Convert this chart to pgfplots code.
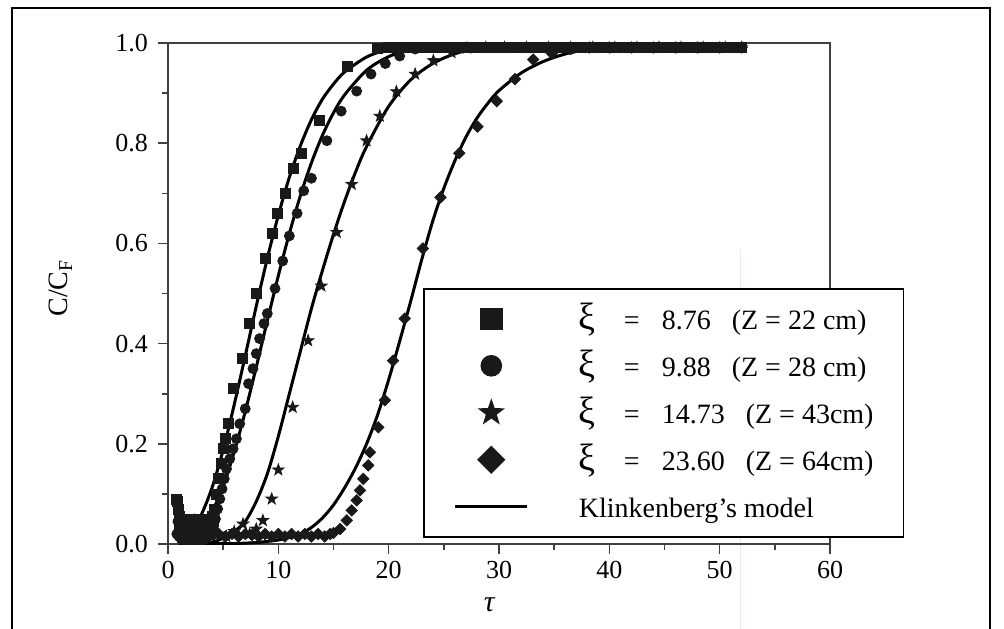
\documentclass[border=0pt]{standalone}
\usepackage{fontspec}
\setmainfont{Liberation Serif}
\usepackage{pgfplots}
\pgfplotsset{compat=1.18}
\newcommand{\bxi}{\makebox[22.5pt][l]{\fontsize{19}{20}\selectfont ξ}}
\pgfdeclareplotmark{fstar}{%
  \pgfpathmoveto{\pgfpointpolar{90}{\pgfplotmarksize}}%
  \pgfpathlineto{\pgfpointpolar{126}{0.4\pgfplotmarksize}}%
  \pgfpathlineto{\pgfpointpolar{162}{\pgfplotmarksize}}%
  \pgfpathlineto{\pgfpointpolar{198}{0.4\pgfplotmarksize}}%
  \pgfpathlineto{\pgfpointpolar{234}{\pgfplotmarksize}}%
  \pgfpathlineto{\pgfpointpolar{270}{0.4\pgfplotmarksize}}%
  \pgfpathlineto{\pgfpointpolar{306}{\pgfplotmarksize}}%
  \pgfpathlineto{\pgfpointpolar{342}{0.4\pgfplotmarksize}}%
  \pgfpathlineto{\pgfpointpolar{18}{\pgfplotmarksize}}%
  \pgfpathlineto{\pgfpointpolar{54}{0.4\pgfplotmarksize}}%
  \pgfpathclose
  \pgfusepathqfillstroke
}
\begin{document}
\begin{tikzpicture}
\useasboundingbox (-84pt,-42pt) rectangle (418pt,272pt);
\draw[black, line width=1.2pt] (-78pt,-60pt) -- (-78pt,268pt) -- (411pt,268pt) -- (411pt,-60pt);
\draw[red!12, line width=0.4pt] (286pt,147pt) -- (286pt,-60pt);
\begin{axis}[
  at={(0pt,0pt)}, anchor=south west, scale only axis,
  width=331pt, height=250.5pt,
  xmin=0, xmax=60, ymin=0, ymax=1,
  xtick={0,10,20,30,40,50,60}, minor x tick num=1,
  ytick={0,0.2,0.4,0.6,0.8,1.0}, minor y tick num=1,
  tick pos=left, tick align=outside,
  major tick length=5pt, minor tick length=3pt,
  axis line style={black!75, line width=1pt},
  every tick/.style={black!75, line width=0.8pt},
  tick label style={font=\fontsize{13}{15}\selectfont},
  /pgf/number format/assume math mode=true,
  yticklabel style={xshift=-1.5pt, /pgf/number format/.cd, fixed, fixed zerofill, precision=1},
  xlabel={\textit{τ}}, ylabel={C/C\textsubscript{F}},
  xlabel style={font=\fontsize{15}{17}\selectfont, at={(axis description cs:0.486,-0.122)}, anchor=center},
  ylabel style={font=\fontsize{14}{16}\selectfont, at={(axis description cs:-0.162,0.511)}, anchor=center},
  legend style={at={(rel axis cs:0.3852,0.511)}, anchor=north west, draw=black, line width=0.8pt,
    inner xsep=15pt, inner ysep=6pt, row sep=5.5pt, font=\fontsize{14}{16}\selectfont,
    nodes={inner sep=0pt, text height=14.5pt, text depth=3.5pt},
    /tikz/every odd column/.style={column sep=25pt}},
  legend cell align=left,
  legend image code/.code={\draw[mark repeat=2,mark phase=2,#1] plot coordinates {(0pt,0pt)(18pt,0pt)(36pt,0pt)};},
]
% squares xi = 8.76
\addplot[only marks, mark=square*, mark size=2.5pt, color=black!90, legend image post style={mark size=5.2pt}] coordinates {
(0.75,0.09)(0.85,0.085)(0.95,0.07)(1.0,0.055)(1.05,0.04)(1.15,0.025)(1.25,0.045)(1.35,0.015)(1.45,0.035)(1.55,0.02)(1.65,0.05)(1.75,0.01)(1.85,0.03)(1.95,0.02)(2.05,0.045)(2.15,0.01)(2.25,0.03)(2.35,0.02)(2.45,0.04)(2.55,0.015)(2.65,0.035)(2.75,0.025)(2.85,0.05)(2.95,0.01)(3.05,0.03)(3.15,0.02)(3.25,0.045)(3.35,0.015)(3.45,0.035)(3.55,0.025)(3.65,0.05)(3.75,0.02)(3.85,0.04)(3.95,0.03)(4.05,0.055)(4.15,0.045)(4.25,0.07)
(4.4,0.10)(4.6,0.13)(4.8,0.16)(5.0,0.19)(5.2,0.21)(5.5,0.24)(5.9,0.31)(6.7,0.37)(7.4,0.44)(8.0,0.50)(8.8,0.57)(9.5,0.62)(9.9,0.66)(10.6,0.70)(11.4,0.75)(12.1,0.78)(13.7,0.845)(16.3,0.953)(19.0,0.99)
(20,0.991)(21,0.991)(22,0.991)(23,0.991)(24,0.991)(25,0.991)(26,0.991)(27,0.991)(28,0.991)(29,0.991)(30,0.991)(31,0.991)(32,0.991)(33,0.991)(34,0.991)(35,0.991)(36,0.991)(37,0.991)(38,0.991)(39,0.991)(40,0.991)(41,0.991)(42,0.991)(43,0.991)(44,0.991)(45,0.991)(46,0.991)(47,0.991)(48,0.991)(49,0.991)(50,0.991)(51,0.991)(52,0.991)};
\addlegendentry{\bxi\makebox[19pt][l]{=}\makebox[35pt][l]{8.76}(Z = 22 cm)}
% circles xi = 9.88
\addplot[only marks, mark=*, mark size=2.5pt, color=black!90, legend image post style={mark size=5pt}] coordinates {
(0.8,0.02)(0.9,0.045)(1.0,0.015)(1.1,0.03)(1.2,0.01)(1.3,0.05)(1.4,0.02)(1.5,0.035)(1.6,0.01)(1.7,0.03)(1.8,0.045)(1.9,0.015)(2.0,0.025)(2.1,0.04)(2.2,0.01)(2.3,0.03)(2.4,0.05)(2.5,0.01)(2.6,0.02)(2.7,0.04)(2.8,0.03)(2.9,0.015)(3.0,0.045)(3.1,0.02)(3.2,0.03)(3.3,0.01)(3.4,0.025)(3.5,0.04)(3.6,0.015)(3.7,0.03)(3.8,0.02)(3.9,0.04)(4.0,0.025)(4.1,0.035)(4.2,0.045)(4.3,0.05)
(4.5,0.07)(4.7,0.09)(4.9,0.11)(5.1,0.13)(5.3,0.15)(5.6,0.17)(5.9,0.19)(6.2,0.21)(6.5,0.24)(7.0,0.27)(7.3,0.32)(7.7,0.35)(8.0,0.38)(8.3,0.41)(8.7,0.44)(9.0,0.46)(9.7,0.51)(10.4,0.565)(11.0,0.615)(11.7,0.66)(12.3,0.705)(13.0,0.73)(14.4,0.805)(15.7,0.864)(17.1,0.904)(18.4,0.938)(19.7,0.959)(21.0,0.974)(22.4,0.988)
(23.5,0.991)(24.5,0.991)(25.5,0.991)(26.5,0.991)(27.5,0.991)(28.5,0.991)(29.5,0.991)(30.5,0.991)(31.5,0.991)(32.5,0.991)(33.5,0.991)(34.5,0.991)(35.5,0.991)(36.5,0.991)(37.5,0.991)(38.5,0.991)(39.5,0.991)(40.5,0.991)(41.5,0.991)(42.5,0.991)(43.5,0.991)(44.5,0.991)(45.5,0.991)(46.5,0.991)(47.5,0.991)(48.5,0.991)(49.5,0.991)(50.5,0.991)(51.5,0.991)};
\addlegendentry{\bxi\makebox[19pt][l]{=}\makebox[35pt][l]{9.88}(Z = 28 cm)}
% stars xi = 14.73
\addplot[only marks, mark=fstar, mark size=3pt, color=black!90, legend image post style={mark size=6pt}] coordinates {
(4.6,0.02)(5.3,0.015)(6.0,0.025)(6.8,0.04)(7.4,0.02)(8.0,0.03)(8.6,0.047)(9.4,0.09)(10.0,0.148)(11.3,0.273)(12.7,0.406)(13.9,0.515)(15.3,0.622)(16.65,0.718)(18.0,0.805)(19.2,0.854)(20.7,0.903)(22.4,0.938)(24.05,0.965)(25.7,0.981)(27.1,0.99)(28.8,0.991)(30.5,0.991)(32.5,0.991)(34.5,0.991)(36.5,0.991)(38.5,0.991)(40.5,0.991)(42.5,0.991)(44.5,0.991)(46.5,0.991)(48.5,0.991)(50.5,0.991)(52,0.991)};
\addlegendentry{\bxi\makebox[19pt][l]{=}\makebox[42pt][l]{14.73}(Z = 43cm)}
% diamonds xi = 23.60
\addplot[only marks, mark=square*, mark size=2pt, mark options={rotate=45}, color=black!90, legend image post style={mark size=4.6pt}] coordinates {
(4.6,0.02)(5.2,0.015)(5.8,0.02)(6.4,0.015)(7.0,0.02)(7.6,0.018)(8.2,0.015)(8.8,0.02)(9.4,0.015)(10.0,0.02)(10.6,0.015)(11.2,0.02)(11.8,0.015)(12.4,0.02)(13.0,0.015)(13.6,0.02)(14.2,0.015)(14.7,0.02)(15.0,0.022)(15.6,0.03)(16.2,0.047)(16.65,0.067)(17.1,0.087)(17.4,0.107)(17.7,0.13)(18.15,0.157)(18.3,0.183)(19.06,0.233)(19.65,0.287)(20.4,0.366)(21.45,0.45)(23.1,0.59)(24.7,0.692)(26.4,0.78)(28.05,0.833)(29.8,0.884)(31.45,0.928)(33.1,0.967)(34.8,0.979)(36.5,0.988)(38.2,0.991)(40,0.991)(42,0.991)(44,0.991)(46,0.991)(48,0.991)(50,0.991)(52,0.991)};
\addlegendentry{\bxi\makebox[19pt][l]{=}\makebox[42pt][l]{23.60}(Z = 64cm)}
% Klinkenberg model curves
\addplot[black, line width=1.5pt, smooth] coordinates {
(1,0.0057)(2,0.0228)(3,0.0577)(4,0.113)(5,0.188)(6,0.278)(7,0.3755)(8,0.4747)(9,0.570)(10,0.656)(11,0.732)(12,0.795)(13,0.847)(14,0.888)(15,0.918)(16,0.942)(18,0.972)(20,0.9876)(22,0.9946)(25,0.9987)(30,0.9999)(52,1.0)};
\addlegendentry{Klinkenberg’s model}
\addplot[black, line width=1.5pt, smooth, forget plot] coordinates {
(1,0.0021)(2,0.0098)(3,0.0296)(4,0.0645)(5,0.1153)(6,0.1835)(7,0.2644)(8,0.3533)(9,0.4455)(10,0.5355)(11,0.6198)(12,0.6954)(13,0.7609)(14,0.8158)(15,0.8607)(16,0.8963)(18,0.9457)(20,0.9728)(22,0.9874)(25,0.996)(30,0.9996)(52,1.0)};
\addplot[black, line width=1.5pt, smooth, forget plot] coordinates {
(2,0.0009)(4,0.004)(5,0.012)(6,0.025)(7,0.045)(8,0.085)(9,0.14)(10,0.215)(11,0.30)(12,0.385)(13,0.47)(14,0.5462)(15,0.618)(16,0.6838)(17,0.7425)(18,0.7936)(20,0.8736)(22,0.9265)(24,0.9591)(26,0.9785)(28,0.9894)(30,0.9947)(35,0.9993)(40,1.0)(52,1.0)};
\addplot[black, line width=1.5pt, smooth, forget plot] coordinates {
(1,0.0)(4,0.0005)(6,0.001)(8,0.003)(10,0.008)(11,0.013)(12,0.02)(13,0.033)(14,0.052)(15,0.078)(16,0.112)(17,0.152)(18,0.2)(19,0.258)(20,0.328)(21,0.405)(22,0.485)(23,0.568)(24,0.645)(25,0.71)(26,0.765)(27,0.812)(28,0.85)(29,0.88)(30,0.905)(32,0.94)(34,0.963)(36,0.978)(38,0.987)(40,0.992)(44,0.997)(48,0.999)(52,1.0)};
\end{axis}
\end{tikzpicture}
\end{document}
